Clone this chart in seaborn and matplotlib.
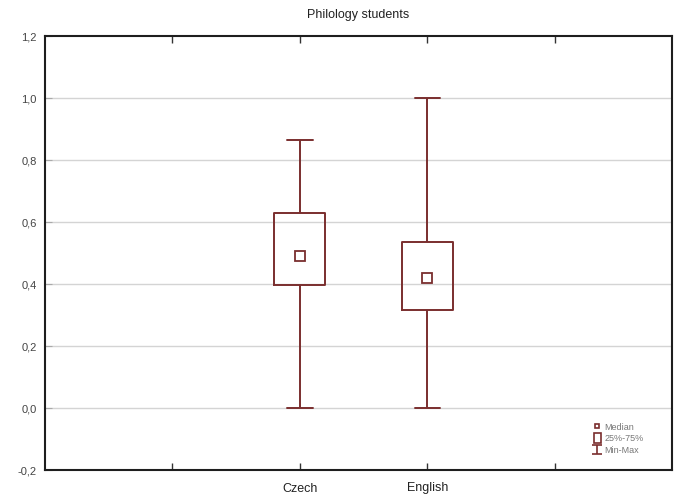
import numpy as np
import pandas as pd
import matplotlib
matplotlib.use("Agg")
import matplotlib.pyplot as plt
from matplotlib.lines import Line2D
from matplotlib.patches import Rectangle
import seaborn as sns

# Five-number summaries per group
groups = ["Czech", "English"]
mins = [0.0, 0.0]
q1s = [0.397, 0.316]
medians = [0.491, 0.418]
q3s = [0.630, 0.535]
maxs = [0.865, 1.0]

title = "Philology students"
ytick_vals = [-0.2, 0.0, 0.2, 0.4, 0.6, 0.8, 1.0, 1.2]

color = "#7a2e2e"

sns.set_theme(style="white")
plt.rcParams["font.family"] = ["Liberation Sans", "DejaVu Sans"]

# A five-point sample per group reproduces the summary exactly:
# its 25/50/75th percentiles are q1/median/q3, and whis=(0, 100) spans min..max.
rows = []
for g, a, b, c, d, e in zip(groups, mins, q1s, medians, q3s, maxs):
    for v in (a, b, c, d, e):
        rows.append({"group": g, "value": v})
df = pd.DataFrame(rows)

fig = plt.figure(figsize=(6.75, 5.04), dpi=100)
ax = fig.add_axes([45 / 675, 1 - 470 / 504, 627 / 675, 434 / 504])

sns.boxplot(
    data=df, x="group", y="value", order=groups, ax=ax,
    whis=(0, 100), width=0.4, fill=False, color=color, linecolor=color,
    linewidth=1.4, showfliers=False, capwidths=0.2,
    medianprops={"visible": False},
)

# Median shown as an open square
ax.plot(range(len(groups)), medians, linestyle="none", marker="s",
        markersize=7.5, markerfacecolor="white", markeredgecolor=color,
        markeredgewidth=1.3, zorder=5)

ax.set_xlim(-2, 2.92)
ax.set_ylim(-0.2, 1.2)

ax.set_xticks([-1, 0, 1, 2])
ax.set_xticklabels(["", "Czech", "English", ""], fontsize=9, color="#222222")
ax.set_yticks(ytick_vals)
ax.set_yticklabels([f"{v:.1f}".replace(".", ",") for v in ytick_vals],
                   fontsize=8, color="#444444")
ax.tick_params(axis="x", direction="in", length=5, width=1, color="#333333",
               top=True, bottom=True, pad=9)
ax.tick_params(axis="y", direction="in", length=5, width=0.8, color="#aaaaaa",
               left=True, right=False, pad=6)

for y in ytick_vals[1:-1]:
    ax.axhline(y, color="#d4d4d4", linewidth=1.0, zorder=0)

for s in ax.spines.values():
    s.set_visible(True)
    s.set_color("#1e1e1e")
    s.set_linewidth(1.5)

ax.set_xlabel("")
ax.set_ylabel("")
ax.set_title(title, fontsize=9, color="#222222", pad=13)

# Legend: median marker, quartile box, min-max whisker
eb = ax.errorbar([np.nan], [np.nan], yerr=[[np.nan], [np.nan]], fmt="none",
                 ecolor=color, elinewidth=1.2, capsize=3.5, capthick=1.2)
handles = [
    Line2D([], [], linestyle="none", marker="s", markersize=3.5,
           markerfacecolor="white", markeredgecolor=color, markeredgewidth=1.2),
    Rectangle((0, 0), 1, 1, facecolor="white", edgecolor=color, linewidth=1.2),
    eb,
]
leg = ax.legend(handles, ["Median", "25%-75%", "Min-Max"],
                loc="lower right", bbox_to_anchor=(0.965, 0.02),
                frameon=False, fontsize=6.5, handlelength=0.8, handleheight=1.3,
                handletextpad=0.4, labelspacing=0.2, borderpad=0.2)
for t in leg.get_texts():
    t.set_color("#777777")

fig.savefig("out.png", dpi=100)
